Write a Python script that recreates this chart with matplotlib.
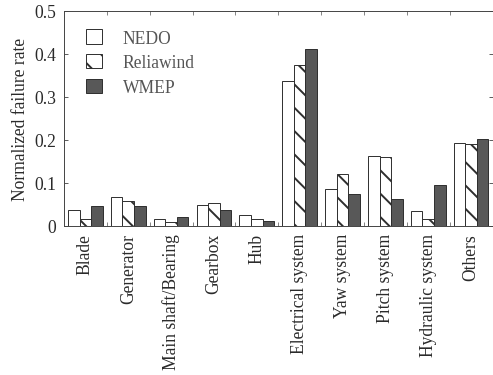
import matplotlib
matplotlib.use("Agg")
import matplotlib.pyplot as plt
import numpy as np

components = ["Blade", "Generator", "Main shaft/Bearing", "Gearbox", "Hub",
              "Electrical system", "Yaw system", "Pitch system",
              "Hydraulic system", "Others"]
nedo = [0.038, 0.068, 0.017, 0.050, 0.026, 0.338, 0.085, 0.163, 0.036, 0.193]
reliawind = [0.017, 0.059, 0.010, 0.053, 0.017, 0.374, 0.120, 0.160, 0.017, 0.191]
wmep = [0.047, 0.047, 0.022, 0.038, 0.012, 0.412, 0.075, 0.063, 0.095, 0.202]

# low dpi keeps the diagonal hatch spacing wide
DPI = 70
FS = 18

plt.rcParams["font.family"] = ["Liberation Serif", "DejaVu Serif"]
plt.rcParams["hatch.linewidth"] = 2.0
plt.rcParams["hatch.color"] = "#3a3a3a"

fig = plt.figure(figsize=(493 / DPI, 376 / DPI), dpi=DPI)
ax = fig.add_axes([64 / 493, 1 - 227 / 376, 428.5 / 493, 215 / 376])

x = np.arange(len(components))
w = 0.27
edge = "#2e2e2e"
ax.bar(x - w, nedo, w, color="white", edgecolor=edge, linewidth=1.0, label="NEDO")
ax.bar(x, reliawind, w, color="white", edgecolor=edge, linewidth=1.0,
       hatch="\\", label="Reliawind")
ax.bar(x + w, wmep, w, color="#585858", edgecolor=edge, linewidth=1.0, label="WMEP")

ax.set_xlim(-0.5, len(components) - 0.5)
ax.set_ylim(0, 0.5)
ax.set_yticks([0, 0.1, 0.2, 0.3, 0.4, 0.5])
ax.set_yticklabels(["0", "0.1", "0.2", "0.3", "0.4", "0.5"])
ax.set_xticks(x)
ax.set_xticklabels(components, rotation=90)
ax.set_xticks(np.arange(0.5, len(components) - 0.5), minor=True)

ax.tick_params(axis="x", which="major", length=0, pad=7, labelsize=FS,
               labelcolor="#2a2a2a")
ax.tick_params(axis="x", which="minor", direction="in", length=4,
               top=True, bottom=True, color="#333333")
ax.tick_params(axis="y", direction="in", length=4, left=True, right=True,
               labelsize=FS, pad=8, color="#333333", labelcolor="#2a2a2a")
ax.set_ylabel("Normalized failure rate", fontsize=FS, labelpad=5, color="#2a2a2a")
for s in ax.spines.values():
    s.set_color("#444444")
    s.set_linewidth(1.0)

leg = ax.legend(loc="upper left", bbox_to_anchor=(0.051, 0.915), frameon=False,
                fontsize=FS, handlelength=0.9, handleheight=0.9,
                handletextpad=1.2, labelspacing=0.42, borderpad=0,
                borderaxespad=0)
for t in leg.get_texts():
    t.set_color("#555555")

fig.savefig("out.png", dpi=DPI)
